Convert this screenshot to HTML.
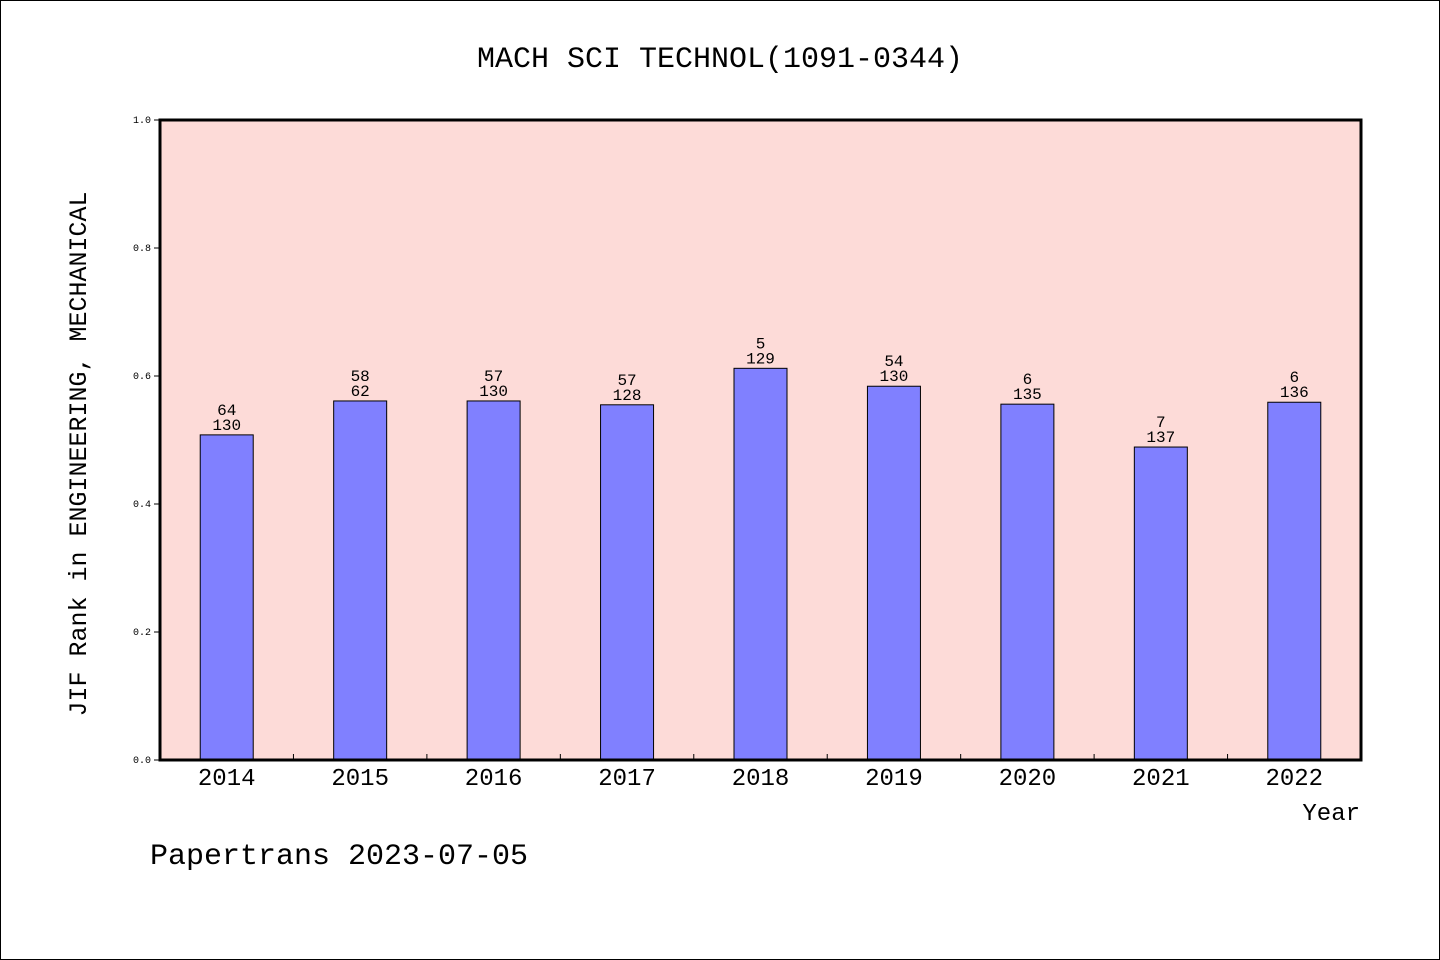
<!DOCTYPE html>
<html><head><meta charset="utf-8"><style>
body{margin:0;background:#fff}
svg{display:block}
text{font-family:"Liberation Mono",monospace;fill:#000}
</style></head><body>
<svg id="chart" width="1440" height="960">
<rect x="0.5" y="0.5" width="1439" height="959" fill="#fff" stroke="#000"/>
<text x="720" y="67" font-size="30" text-anchor="middle">MACH SCI TECHNOL(1091-0344)</text>
<rect x="160" y="120" width="1201" height="640" fill="#fddbd8"/>
<g id="bars"></g>
<g id="axes"></g>
<rect x="160" y="120" width="1201" height="640" fill="none" stroke="#000" stroke-width="3"/>
<text x="1360" y="820" font-size="24" text-anchor="end">Year</text>
<text transform="translate(86,454) rotate(-90)" font-size="25" text-anchor="middle">JIF Rank in ENGINEERING, MECHANICAL</text>
<text x="150" y="864" font-size="30">Papertrans 2023-07-05</text>
</svg>
<script>
const categories=["2014","2015","2016","2017","2018","2019","2020","2021","2022"];
const values=[0.508,0.561,0.561,0.555,0.612,0.584,0.556,0.489,0.559];
const ranks=["64","58","57","57","5","54","6","7","6"];
const totals=["130","62","130","128","129","130","135","137","136"];
const yTicks=[0,0.2,0.4,0.6,0.8,1.0];
const X0=160,W=1201,Y0=760,H=640,NS="http://www.w3.org/2000/svg";
const bw=W/categories.length;
const xs=i=>X0+bw*(i+0.5);
const ys=v=>Y0-v*H;
const bars=document.getElementById('bars'),axes=document.getElementById('axes');
function mk(tag,attrs,parent,txt){const e=document.createElementNS(NS,tag);for(const k in attrs)e.setAttribute(k,attrs[k]);if(txt!==undefined)e.textContent=txt;parent.appendChild(e);return e;}
categories.forEach((c,i)=>{
  const b=mk('rect',{x:xs(i)-26.5,y:ys(values[i]),width:53,height:Y0-ys(values[i]),fill:'#8080ff',stroke:'#000','stroke-width':1},bars);
  
  
  const t1=mk('text',{x:xs(i),y:ys(values[i])-20,'font-size':16,'text-anchor':'middle'},bars,ranks[i]);
  
  
  const t2=mk('text',{x:xs(i),y:ys(values[i])-5,'font-size':16,'text-anchor':'middle'},bars,totals[i]);
  
  
  const xl=mk('text',{x:xs(i),y:785,'font-size':24,'text-anchor':'middle'},axes,c);
  
  
  if(i>0){const tk=mk('line',{x1:X0+bw*i,x2:X0+bw*i,y1:760,y2:754,stroke:'#000'},axes);
  
  }
});
yTicks.forEach(v=>{
  const tk=mk('line',{x1:154,x2:160,y1:ys(v),y2:ys(v),stroke:'#000'},axes);
  
  
  const l=mk('text',{x:151,y:ys(v)+3,'font-size':10,'text-anchor':'end'},axes,v.toFixed(1));
  
  
});
</script>
</body></html>
